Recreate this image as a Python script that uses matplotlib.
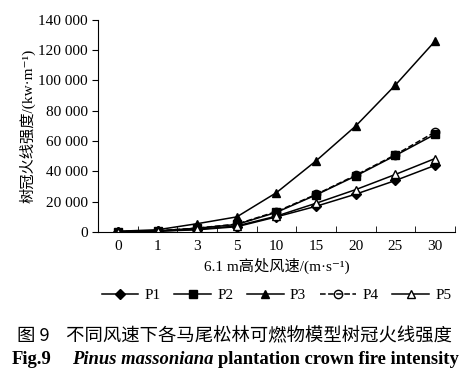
import matplotlib.pyplot as plt
from matplotlib.ticker import FuncFormatter

plt.rcParams['font.family'] = ['Liberation Serif', 'Noto Sans CJK SC', 'DejaVu Sans']

# 风速类别 (等间距显示)
wind = ['0', '1', '3', '5', '10', '15', '20', '25', '30']
p1 = [200, 500, 1500, 3500, 10000, 17000, 25000, 34000, 44000]
p2 = [300, 800, 2500, 5000, 13000, 24500, 37000, 50500, 64500]
p3 = [500, 1500, 5500, 10000, 26000, 47000, 70000, 97000, 126000]
p4 = [300, 800, 2600, 5200, 13500, 24800, 37500, 51000, 66000]
p5 = [200, 600, 1800, 4000, 10500, 19000, 28000, 38000, 48500]

fig = plt.figure(figsize=(4.69, 3.81), dpi=100)
ax = fig.add_axes([0.209, 0.391, 0.761, 0.557])

x = list(range(len(wind)))
kw = dict(color='black', linewidth=1.1, markersize=6)
ax.plot(x, p1, marker='D', markersize=5, color='black', linewidth=1.1, label='P1')
ax.plot(x, p2, marker='s', label='P2', **kw)
ax.plot(x, p3, marker='^', label='P3', **kw)
ax.plot(x, p4, marker='o', linestyle='--', markerfacecolor='none', label='P4', **kw)
ax.plot(x, p5, marker='^', markerfacecolor='white', label='P5', **kw)

ax.set_xlim(-0.5, len(wind) - 0.5)
ax.set_ylim(0, 140000)
ax.set_xticks(x)
ax.set_xticklabels(wind)
ax.set_xticks([i - 0.5 for i in range(len(wind) + 1)], minor=True)
ax.tick_params(axis='x', which='major', length=0, labelsize=11, pad=6)
ax.tick_params(axis='x', which='minor', length=4, direction='in')
ax.set_yticks(range(0, 140001, 20000))
ax.yaxis.set_major_formatter(FuncFormatter(lambda v, p: f'{int(v):,}'.replace(',', ' ')))
ax.tick_params(axis='y', length=4, labelsize=11)
for s in ['top', 'right']:
    ax.spines[s].set_visible(False)

ax.set_xlabel('6.1 m高处风速/(m·s⁻¹)', fontsize=11, labelpad=3)
ax.set_ylabel('树冠火线强度/(kw·m⁻¹)', fontsize=11, labelpad=2)

ax.legend(loc='upper center', bbox_to_anchor=(0.5, -0.2), ncol=5, frameon=False,
          fontsize=11, handlelength=2.4, columnspacing=0.9, handletextpad=0.4)

fig.text(0.5, 0.105, '图 9    不同风速下各马尾松林可燃物模型树冠火线强度', ha='center',
         fontsize=13.2, family=['Noto Sans CJK SC'])

# 英文图题: 分段绘制, 按实际宽度依次排列
renderer = fig.canvas.get_renderer()
xpos = 12 / 469
parts = [('Fig.9', 'normal', 20), ('Pinus massoniana', 'italic', 5), ('plantation crown fire intensity', 'normal', 0)]
for txt, st, gap in parts:
    t = fig.text(xpos, 0.045, txt, fontsize=13.4, fontweight='bold', style=st)
    w = t.get_window_extent(renderer).width
    xpos += (w + gap) / fig.bbox.width

fig.savefig('out.png', dpi=100)
